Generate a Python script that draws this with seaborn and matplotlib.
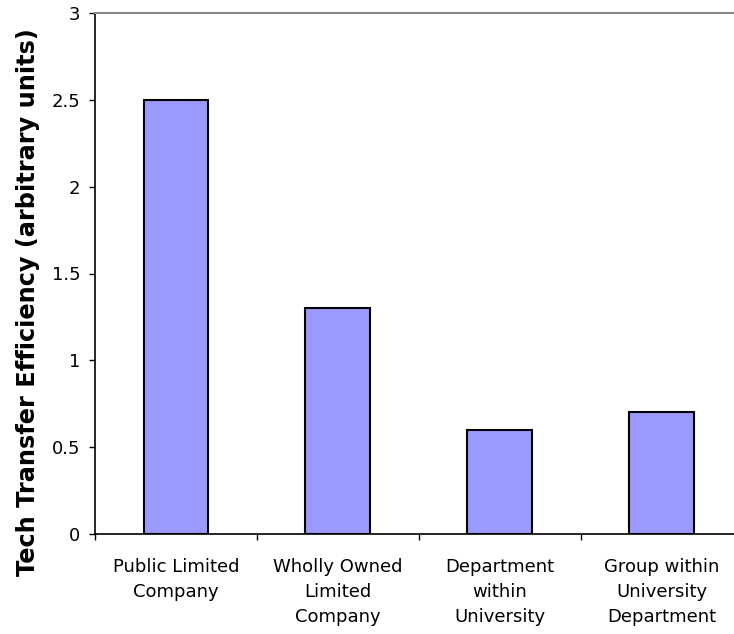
import matplotlib
matplotlib.use("Agg")
import matplotlib.pyplot as plt
import seaborn as sns
import pandas as pd

categories = [
    "Public Limited\nCompany",
    "Wholly Owned\nLimited\nCompany",
    "Department\nwithin\nUniversity",
    "Group within\nUniversity\nDepartment",
]
efficiency = [2.5, 1.3, 0.6, 0.7]
y_ticks = [0, 0.5, 1, 1.5, 2, 2.5, 3]
y_tick_labels = ["0", "0.5", "1", "1.5", "2", "2.5", "3"]

df = pd.DataFrame({"structure": categories, "efficiency": efficiency})

sns.set_style("white")
plt.rcParams["font.family"] = ["DejaVu Sans"]
plt.rcParams["text.color"] = "black"
plt.rcParams["xtick.color"] = "black"
plt.rcParams["ytick.color"] = "black"
plt.rcParams["axes.labelcolor"] = "black"

fig = plt.figure(figsize=(7.34, 6.34), dpi=100)
ax = fig.add_axes([95 / 734, 100 / 634, 647.5 / 734, 521 / 634])

sns.barplot(data=df, x="structure", y="efficiency", color="#9999ff",
            saturation=1, width=0.4, edgecolor="black", linewidth=1.5, ax=ax)

ax.set_xlim(-0.5, len(categories) - 0.5)
ax.set_ylim(0, 3)
ax.set_yticks(y_ticks)
ax.set_yticklabels(y_tick_labels, fontsize=13)
ax.set_xticks([i - 0.5 for i in range(len(categories) + 1)], minor=False)
ax.set_xticklabels([""] * (len(categories) + 1))
ax.set_xticks(range(len(categories)), minor=True)
ax.set_xticklabels(categories, minor=True, fontsize=13, linespacing=1.5)
ax.tick_params(axis="x", which="minor", length=0, pad=17)
ax.tick_params(axis="x", which="major", length=4, width=1, direction="out")
ax.tick_params(axis="y", length=4, width=1, direction="out", pad=6.5)
ax.tick_params(bottom=True, left=True)

ax.set_xlabel("")
ax.set_ylabel("Tech Transfer Efficiency (arbitrary units)", fontsize=17.3,
              fontweight="bold")
ax.yaxis.set_label_coords(-0.085, 0.445)

for side in ["left", "bottom"]:
    ax.spines[side].set_color("black")
    ax.spines[side].set_linewidth(1.2)
ax.spines["top"].set_color("#888888")
ax.spines["top"].set_linewidth(1.5)
ax.spines["right"].set_visible(False)

fig.savefig("out.png", dpi=100)
